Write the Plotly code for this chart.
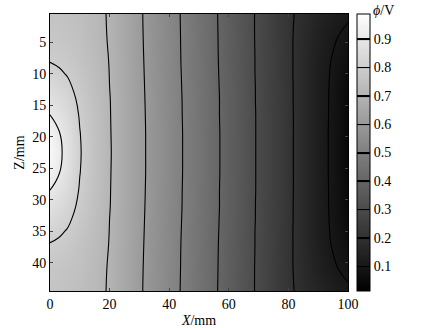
import plotly.graph_objects as go

# Grid nodes (mm)
x_nodes = [0, 3, 6, 10, 15, 20, 30, 40, 50, 60, 70, 80, 90, 95, 100]
z_nodes = [0.5, 4, 8, 10, 12, 14, 16.5, 19.5, 22.5, 25.5, 28.5, 31, 33, 35, 37, 41, 44.5]

# Potential phi (V), one row per z node
row_z0_5  = [0.762, 0.759, 0.752, 0.740, 0.719, 0.694, 0.609, 0.529, 0.450, 0.370, 0.289, 0.212, 0.150, 0.125, 0.110]
row_z4    = [0.772, 0.767, 0.759, 0.747, 0.722, 0.695, 0.610, 0.530, 0.451, 0.371, 0.289, 0.212, 0.135, 0.108, 0.085]
row_z8    = [0.798, 0.790, 0.778, 0.758, 0.729, 0.698, 0.612, 0.531, 0.452, 0.372, 0.290, 0.213, 0.128, 0.095, 0.065]
row_z10   = [0.822, 0.810, 0.795, 0.767, 0.735, 0.699, 0.613, 0.532, 0.453, 0.373, 0.290, 0.213, 0.127, 0.092, 0.057]
row_z12   = [0.845, 0.830, 0.812, 0.776, 0.740, 0.700, 0.614, 0.533, 0.454, 0.374, 0.291, 0.214, 0.126, 0.090, 0.050]
row_z14   = [0.870, 0.850, 0.828, 0.786, 0.744, 0.702, 0.615, 0.534, 0.455, 0.375, 0.291, 0.214, 0.126, 0.089, 0.047]
row_z16_5 = [0.900, 0.875, 0.845, 0.795, 0.748, 0.703, 0.616, 0.535, 0.455, 0.375, 0.292, 0.215, 0.125, 0.089, 0.045]
row_z19_5 = [0.940, 0.905, 0.866, 0.802, 0.750, 0.704, 0.617, 0.536, 0.456, 0.376, 0.292, 0.215, 0.125, 0.088, 0.042]
row_z22_5 = [0.960, 0.915, 0.873, 0.805, 0.751, 0.705, 0.617, 0.536, 0.456, 0.376, 0.292, 0.215, 0.125, 0.088, 0.040]
row_z25_5 = [0.940, 0.905, 0.866, 0.802, 0.750, 0.704, 0.617, 0.536, 0.456, 0.376, 0.292, 0.215, 0.125, 0.088, 0.042]
row_z28_5 = [0.900, 0.875, 0.845, 0.795, 0.748, 0.703, 0.616, 0.535, 0.455, 0.375, 0.292, 0.215, 0.125, 0.089, 0.045]
row_z31   = [0.870, 0.850, 0.828, 0.786, 0.744, 0.702, 0.615, 0.534, 0.455, 0.375, 0.291, 0.214, 0.126, 0.089, 0.047]
row_z33   = [0.845, 0.830, 0.812, 0.776, 0.740, 0.700, 0.614, 0.533, 0.454, 0.374, 0.291, 0.214, 0.126, 0.090, 0.050]
row_z35   = [0.822, 0.810, 0.795, 0.767, 0.735, 0.699, 0.613, 0.532, 0.453, 0.373, 0.290, 0.213, 0.127, 0.092, 0.057]
row_z37   = [0.798, 0.790, 0.778, 0.758, 0.729, 0.698, 0.612, 0.531, 0.452, 0.372, 0.290, 0.213, 0.128, 0.095, 0.065]
row_z41   = [0.772, 0.767, 0.759, 0.747, 0.722, 0.695, 0.610, 0.530, 0.451, 0.371, 0.289, 0.212, 0.135, 0.108, 0.085]
row_z44_5 = [0.762, 0.759, 0.752, 0.740, 0.719, 0.694, 0.609, 0.529, 0.450, 0.370, 0.289, 0.212, 0.150, 0.125, 0.110]

phi = [row_z0_5, row_z4, row_z8, row_z10, row_z12, row_z14, row_z16_5, row_z19_5,
       row_z22_5, row_z25_5, row_z28_5, row_z31, row_z33, row_z35, row_z37,
       row_z41, row_z44_5]

x_ticks = [0, 20, 40, 60, 80, 100]
z_ticks = [5, 10, 15, 20, 25, 30, 35, 40]
cbar_ticks = [0.1, 0.2, 0.3, 0.4, 0.5, 0.6, 0.7, 0.8, 0.9]

FONT = "Liberation Serif"
FS = 14

fig = go.Figure()
fig.add_trace(go.Contour(
    x=x_nodes, y=z_nodes, z=phi,
    colorscale=[[0, "#000000"], [1, "#ffffff"]],
    zmin=0.012, zmax=0.988,
    contours=dict(start=0.1, end=0.9, size=0.1, coloring="heatmap", showlines=True),
    line=dict(color="black", width=1.1, smoothing=1.3),
    colorbar=dict(
        x=1.03, xanchor="left", xpad=0, y=0, yanchor="bottom", len=1, ypad=0,
        thickness=13, outlinewidth=1, outlinecolor="black",
        tickvals=cbar_ticks, ticktext=[str(v) for v in cbar_ticks],
        ticks="inside", ticklen=13, tickcolor="black", tickwidth=1,
        tickfont=dict(family=FONT, size=FS, color="black"),
    ),
))

fig.update_layout(
    width=424, height=328,
    margin=dict(l=50, r=76, t=14, b=37),
    paper_bgcolor="white", plot_bgcolor="white",
    showlegend=False,
    font=dict(family=FONT, size=FS, color="black"),
    xaxis=dict(
        range=[0, 100], tickvals=x_ticks, ticks="inside", ticklen=3,
        showline=True, linecolor="black", linewidth=1, mirror="ticks",
        showgrid=False, zeroline=False, automargin=False,
        title=dict(text="<i>X</i>/mm", standoff=4, font=dict(family=FONT, size=FS)),
        tickfont=dict(family=FONT, size=FS),
    ),
    yaxis=dict(
        range=[44.5, 0.5], tickvals=z_ticks, ticks="inside", ticklen=3,
        showline=True, linecolor="black", linewidth=1, mirror="ticks",
        showgrid=False, zeroline=False, automargin=False,
        title=dict(text="Z/mm", standoff=4, font=dict(family=FONT, size=FS)),
        tickfont=dict(family=FONT, size=FS),
    ),
    annotations=[dict(
        text="<i>ϕ</i>/V", xref="paper", yref="paper", x=1.077, y=1.012,
        xanchor="left", yanchor="middle", showarrow=False,
        font=dict(family=FONT, size=FS, color="black"),
    )],
)

fig.write_html("out.html", config={"displayModeBar": False},
               post_script="document.body.style.margin='0';document.body.style.overflow='hidden';")
